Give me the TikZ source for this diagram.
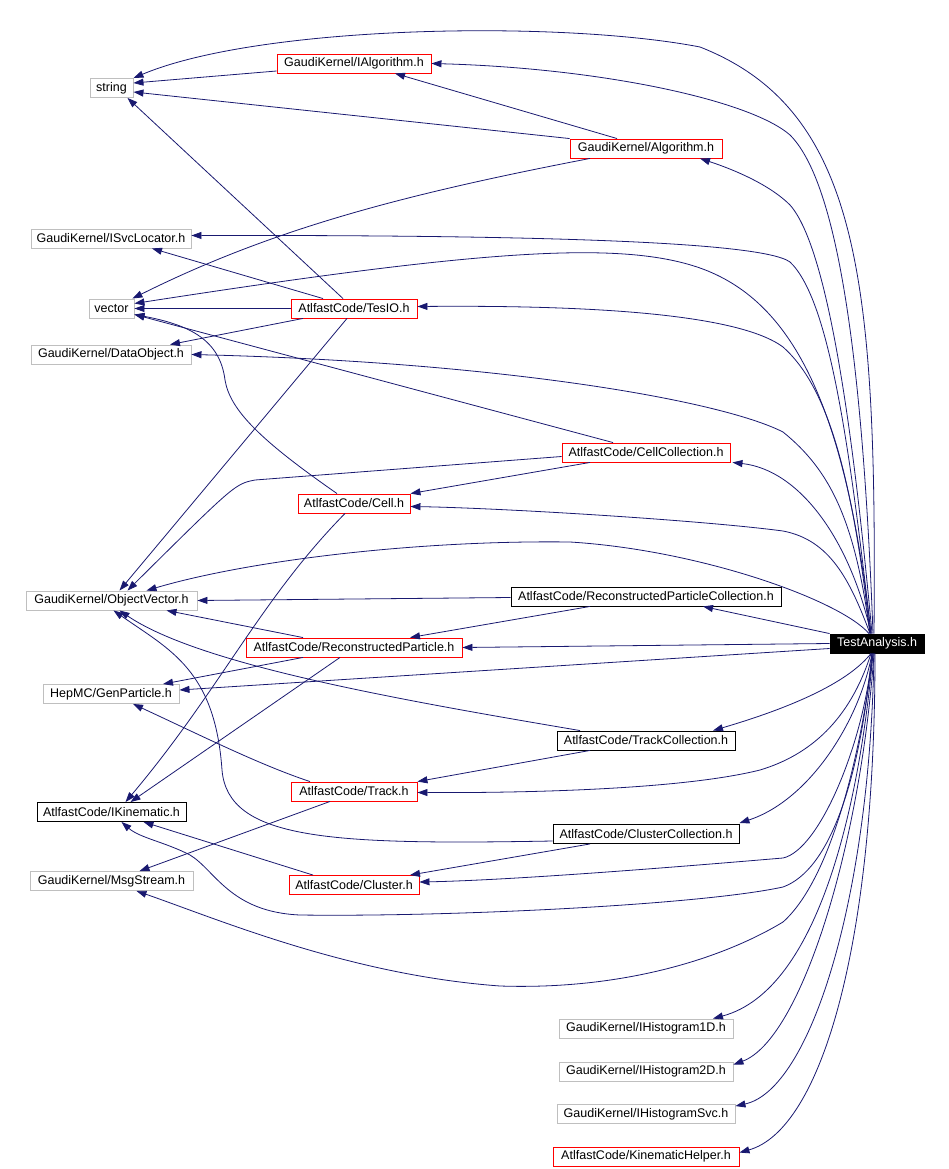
\documentclass[tikz,border=0pt]{standalone}
\usepackage{fontspec}
\setmainfont{Liberation Sans}
\usetikzlibrary{arrows.meta}
\definecolor{edgecol}{HTML}{191970}
\definecolor{graybd}{HTML}{BFBFBF}
\begin{document}
\begin{tikzpicture}[x=1pt,y=-1pt,
  box/.style={draw, rectangle, minimum height=19pt, inner sep=0pt, font=\fontsize{12.5}{14}\selectfont, line width=0.9pt},
  gbox/.style={box, draw=graybd},
  rbox/.style={box, draw=red},
  bbox/.style={box, draw=black},
  tabox/.style={box, draw=black, fill=black, text=white},
  dep/.style={draw=edgecol, line width=0.8pt, -{Triangle[length=10pt,width=7pt]}},
]
\useasboundingbox (0,0) rectangle (948,1169);
% nodes
\node[gbox, minimum width=43pt]  (string)   at (111.5,88)  {string};
\node[rbox, minimum width=154pt] (ialg)     at (354,63.5)  {GaudiKernel/IAlgorithm.h};
\node[rbox, minimum width=152pt] (alg)      at (646,148.5) {GaudiKernel/Algorithm.h};
\node[gbox, minimum width=160pt] (isvc)     at (111,238.5) {GaudiKernel/ISvcLocator.h};
\node[gbox, minimum width=45pt]  (vector)   at (111.5,308.5) {vector};
\node[rbox, minimum width=126pt] (tesio)    at (354,308.5) {AtlfastCode/TesIO.h};
\node[gbox, minimum width=160pt] (dataobj)  at (111,354.5) {GaudiKernel/DataObject.h};
\node[rbox, minimum width=168pt] (cellcoll) at (646,452.5) {AtlfastCode/CellCollection.h};
\node[rbox, minimum width=112pt] (cell)     at (354,503.5) {AtlfastCode/Cell.h};
\node[gbox, minimum width=171pt] (objvec)   at (111.5,600.5) {GaudiKernel/ObjectVector.h};
\node[bbox, minimum width=270pt] (rpc)      at (646,596.5) {AtlfastCode/ReconstructedParticleCollection.h};
\node[rbox, minimum width=216pt] (rp)       at (354,647.5) {AtlfastCode/ReconstructedParticle.h};
\node[tabox, minimum width=94pt] (ta)       at (877,643.5) {TestAnalysis.h};
\node[gbox, minimum width=136pt] (genp)     at (111,694)   {HepMC/GenParticle.h};
\node[bbox, minimum width=178pt] (trackcoll) at (646,740.5) {AtlfastCode/TrackCollection.h};
\node[rbox, minimum width=126pt] (track)    at (354,791.5) {AtlfastCode/Track.h};
\node[bbox, minimum width=149pt] (ikin)     at (111.5,812) {AtlfastCode/IKinematic.h};
\node[bbox, minimum width=186pt] (clcoll)   at (646,834)   {AtlfastCode/ClusterCollection.h};
\node[rbox, minimum width=130pt] (cluster)  at (354,885)   {AtlfastCode/Cluster.h};
\node[gbox, minimum width=163pt] (msg)      at (111.5,881) {GaudiKernel/MsgStream.h};
\node[gbox, minimum width=174pt] (hone)     at (646,1028.5) {GaudiKernel/IHistogram1D.h};
\node[gbox, minimum width=174pt] (htwo)     at (646,1071.5) {GaudiKernel/IHistogram2D.h};
\node[gbox, minimum width=178pt] (hsvc)     at (646,1114)  {GaudiKernel/IHistogramSvc.h};
\node[rbox, minimum width=186pt] (kinh)     at (646,1156.5) {AtlfastCode/KinematicHelper.h};

% edges from TestAnalysis.h
\draw[dep] ([xshift=-3pt]ta.north) .. controls (877,280) and (860,110) .. (700,47) .. controls (560,20) and (260,25) .. (string.north east);
\draw[dep] ([xshift=-4pt]ta.north) .. controls (862,340) and (835,180) .. (790,135) .. controls (750,100) and (600,68) .. (ialg.east);
\draw[dep] ([xshift=-5pt]ta.north) .. controls (855,450) and (830,250) .. (790,205) .. controls (770,185) and (735,170) .. ([xshift=54pt]alg.south);
\draw[dep] ([xshift=-6pt]ta.north) .. controls (850,450) and (830,300) .. (790,262) .. controls (760,240) and (500,235) .. ([yshift=3pt]isvc.east);
\draw[dep] ([xshift=-6pt]ta.north) .. controls (845,400) and (790,300) .. (700,268) .. controls (620,240) and (480,250) .. ([yshift=5pt]vector.east);
\draw[dep] ([xshift=-7pt]ta.north) .. controls (850,450) and (820,380) .. (783,347) .. controls (740,315) and (600,305) .. ([yshift=2pt]tesio.east);
\draw[dep] ([xshift=-7pt]ta.north) .. controls (855,520) and (830,470) .. (783,432) .. controls (720,400) and (500,362) .. (dataobj.east);
\draw[dep] ([xshift=-6pt]ta.north) .. controls (850,540) and (800,470) .. ([xshift=2pt]cellcoll.south east);
\draw[dep] ([xshift=-7pt]ta.north) .. controls (850,580) and (830,540) .. (783,531) .. controls (700,520) and (500,508) .. ([yshift=-3pt]cell.east);
\draw[dep] ([xshift=-8pt]ta.north) .. controls (840,600) and (700,550) .. (570,542) .. controls (420,540) and (250,560) .. ([xshift=35pt]objvec.north);
\draw[dep] (ta.north west) -- ([xshift=57pt]rpc.south);
\draw[dep] (ta.west) -- (rp.east);
\draw[dep] ([yshift=-5pt]ta.west) -- ([yshift=4pt]genp.east);
\draw[dep] ([xshift=-6pt]ta.south) .. controls (850,680) and (800,705) .. ([xshift=67pt]trackcoll.north);
\draw[dep] ([xshift=-6pt]ta.south) .. controls (850,720) and (810,755) .. (760,770) .. controls (680,790) and (520,793) .. ([yshift=-1pt]track.east);
\draw[dep] ([xshift=-5pt]ta.south) .. controls (860,720) and (810,800) .. ([yshift=1pt]clcoll.north east);
\draw[dep] ([xshift=-5pt]ta.south) .. controls (865,740) and (820,850) .. (783,858) .. controls (700,865) and (520,880) .. ([yshift=3pt]cluster.east);
\draw[dep] ([xshift=-5pt]ta.south) .. controls (860,780) and (830,870) .. (783,887) .. controls (700,905) and (450,917) .. (300,915) .. controls (230,912) and (215,870) .. (190,855) .. controls (165,842) and (140,838) .. ([xshift=10pt]ikin.south);
\draw[dep] ([xshift=-4pt]ta.south) .. controls (860,760) and (830,880) .. (783,922) .. controls (720,960) and (620,990) .. (500,986) .. controls (350,975) and (220,920) .. ([xshift=25pt]msg.south);
\draw[dep] ([xshift=-4pt]ta.south) .. controls (860,800) and (820,990) .. ([xshift=67pt]hone.north);
\draw[dep] ([xshift=-3pt]ta.south) .. controls (860,850) and (800,1040) .. ([yshift=-3pt]htwo.north east);
\draw[dep] ([xshift=-3pt]ta.south) .. controls (870,900) and (810,1090) .. ([yshift=-2pt]hsvc.north east);
\draw[dep] ([xshift=-2pt]ta.south) .. controls (875,950) and (820,1130) .. ([yshift=-6pt]kinh.north east);

% other edges
\draw[dep] ([yshift=-7.5pt]ialg.west) -- ([yshift=5pt]string.east);
\draw[dep] (alg.north west) -- ([yshift=-4pt]string.east);
\draw[dep] ([xshift=-29pt]alg.north) -- ([xshift=41pt]ialg.south);
\draw[dep] ([xshift=-56pt]alg.south) .. controls (400,195) and (270,230) .. ([xshift=-2pt]vector.north east);
\draw[dep] ([xshift=-11pt]tesio.north) -- ([xshift=16pt]string.south);
\draw[dep] ([xshift=-31pt]tesio.north) -- ([xshift=41pt]isvc.south);
\draw[dep] (tesio.west) -- (vector.east);
\draw[dep] ([xshift=-51pt]tesio.south) -- ([xshift=59pt]dataobj.north);
\draw[dep] ([xshift=-7pt]tesio.south) -- ([xshift=8pt]objvec.north);
\draw[dep] ([xshift=-33pt]cellcoll.north) -- ([yshift=-6pt]vector.east);
\draw[dep] ([yshift=-4pt]cellcoll.west) -- (255,480) .. controls (235,484) .. ([xshift=16pt]objvec.north);
\draw[dep] ([xshift=-56pt]cellcoll.south) -- (cell.north east);
\draw[dep] ([xshift=-17pt]cell.north) .. controls (260,440) and (230,410) .. (225,380) .. controls (220,340) and (190,325) .. ([yshift=-6pt]vector.east);
\draw[dep] ([xshift=-9pt]cell.south) .. controls (260,600) and (220,690) .. ([xshift=14pt]ikin.north);
\draw[dep] ([yshift=-1pt]rpc.west) -- (objvec.east);
\draw[dep] ([xshift=-56pt]rpc.south) -- ([xshift=56pt]rp.north);
\draw[dep] ([xshift=-51pt]rp.north) -- ([xshift=55pt]objvec.south);
\draw[dep] ([xshift=-51pt]rp.south) -- ([xshift=52pt]genp.north);
\draw[dep] ([xshift=-14pt]rp.south) -- ([xshift=19pt]ikin.north);
\draw[dep] ([xshift=-66pt]trackcoll.north) .. controls (400,700) and (200,665) .. ([xshift=8pt]objvec.south);
\draw[dep] ([yshift=-7pt]clcoll.west) .. controls (330,845) and (228,840) .. (222,770) .. controls (215,670) and (170,650) .. ([xshift=2pt]objvec.south);
\draw[dep] ([xshift=-56pt]trackcoll.south) -- (track.north east);
\draw[dep] ([xshift=-44pt]track.north) .. controls (260,765) and (200,735) .. ([xshift=22pt]genp.south);
\draw[dep] ([xshift=-24pt]track.south) -- ([xshift=28pt]msg.north);
\draw[dep] ([xshift=-56pt]clcoll.south) -- ([xshift=56pt]cluster.north);
\draw[dep] ([xshift=-41pt]cluster.north) -- ([xshift=32pt]ikin.south);
\end{tikzpicture}
\end{document}
